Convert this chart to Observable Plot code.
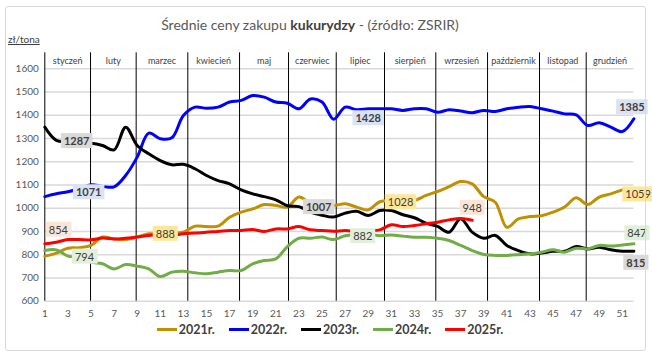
<!DOCTYPE html>
<html><head><meta charset="utf-8">
<script src="https://cdn.jsdelivr.net/npm/d3@7"></script>
<script src="https://cdn.jsdelivr.net/npm/@observablehq/plot@0.6"></script>
<style>
body{margin:0;background:#fff;font-family:Lato,"Liberation Sans",sans-serif;}
#wrap{position:relative;width:652px;height:360px;overflow:hidden;}
#wrap svg{position:absolute;left:0;top:0;}
#frame{position:absolute;left:5px;top:6px;width:641px;height:345px;border:1px solid #d9d9d9;border-radius:3px;box-sizing:border-box;pointer-events:none}
#title{position:absolute;left:0;width:620px;top:16px;text-align:center;font-size:14px;color:#595959;white-space:nowrap}
#title b{color:#404040}
#unit{position:absolute;left:8px;top:33px;font-size:10px;color:#404040;text-decoration:underline;}
#legend{position:absolute;left:4px;width:652px;top:322px;text-align:center;font-size:12.5px;font-weight:bold;color:#404040;white-space:nowrap}
#legend .it{display:inline-block;margin:0 7px;}
#legend .sw{display:inline-block;width:20px;height:3px;vertical-align:middle;margin-right:2px;position:relative;top:-1px}
</style>
</head><body>
<div id="wrap">
  <div id="frame"></div>
  <div id="title">Średnie ceny zakupu <b>kukurydzy</b> - (źródło: ZSRIR)</div>
  <div id="unit">zł/tona</div>
  <div id="legend"></div>
</div>
<script>
// ---- data ----
const seriesNames = ["2021r.", "2022r.", "2023r.", "2024r.", "2025r."];
const seriesColors = ["#BF9000", "#0000FF", "#000000", "#70AD47", "#FF0000"];
const labelBg = ["#FFE699", "#DAE3F3", "#D9D9D9", "#E2EFDA", "#FBE5D6"];

const y2021 = [794,807,828,830,840,876,868,865,876,890,888,893,897,923,921,923,961,983,997,1016,1012,1005,1048,1022,1022,1012,1019,1005,993,1028,1033,1033,1033,1055,1072,1093,1115,1105,1050,1026,918,954,964,968,983,1005,1045,1016,1048,1062,1079];
const y2022 = [1050,1062,1071,1084,1101,1094,1092,1141,1220,1323,1299,1303,1399,1435,1430,1435,1457,1464,1485,1478,1457,1452,1428,1470,1457,1383,1435,1424,1428,1428,1428,1421,1428,1428,1413,1424,1418,1411,1421,1416,1428,1435,1438,1428,1418,1406,1402,1356,1368,1349,1330,1385];
const y2023 = [1349,1292,1287,1280,1280,1270,1251,1349,1270,1234,1205,1187,1189,1170,1141,1119,1105,1079,1062,1050,1036,1011,1007,983,970,962,979,987,969,990,990,972,959,936,922,897,955,897,871,883,840,818,804,807,815,815,835,825,832,821,815,815];
const y2024 = [818,821,794,789,768,761,739,758,751,739,706,725,729,722,718,725,732,732,761,775,782,835,871,871,876,865,882,887,890,882,885,880,875,875,871,861,840,818,801,797,797,800,804,811,821,811,828,825,840,837,842,847];
const y2025 = [847,854,865,865,864,872,868,871,876,883,887,883,890,893,897,900,904,904,908,900,911,911,921,907,904,901,904,901,904,907,929,921,926,933,940,950,956,948];

const monthNames = ["styczeń","luty","marzec","kwiecień","maj","czerwiec","lipiec","sierpień","wrzesień","październik","listopad","grudzień"];
const monthBounds = [1, 4.96, 8.91, 13.38, 17.86, 22.1, 26.23, 30.41, 34.85, 39.33, 43.83, 47.87, 52];

const yTicks = [600,700,800,900,1000,1100,1200,1300,1400,1500,1600];
const xTicks = [1,3,5,7,9,11,13,15,17,19,21,23,25,27,29,31,33,35,37,39,41,43,45,47,49,51];

// data labels: series, week, shown text
const labelSeries = ["2022r.","2022r.","2022r.","2023r.","2023r.","2023r.","2021r.","2021r.","2021r.","2024r.","2024r.","2024r.","2025r.","2025r."];
const labelWeeks  = [3, 29, 52, 3, 23, 52, 11, 30, 51, 3, 27, 52, 2, 38];
const labelTexts  = ["1071","1428","1385","1287","1007","815","888","1028","1059","794","882","847","854","948"];

// ---- build ----
const allSeries = [y2021, y2022, y2023, y2024, y2025];
const rows = [];
allSeries.forEach((arr, s) => arr.forEach((v, i) => rows.push({week: i + 1, value: v, series: seriesNames[s]})));

// placement offsets (pixels) for each data label
const place = [
  {dx:8, dy:1, anchor:"start"}, {dx:0, dy:10, anchor:"middle"}, {dx:-2, dy:-11, anchor:"middle"},
  {dx:-4, dy:0, anchor:"start"}, {dx:7, dy:1, anchor:"start"}, {dx:2, dy:12, anchor:"middle"},
  {dx:5, dy:0, anchor:"middle"}, {dx:8, dy:1, anchor:"start"}, {dx:3, dy:5, anchor:"start"},
  {dx:7, dy:1, anchor:"start"}, {dx:8, dy:1, anchor:"start"}, {dx:3, dy:-10, anchor:"middle"},
  {dx:2, dy:-12, anchor:"middle"}, {dx:0, dy:-12, anchor:"middle"}
];

const labelSeriesIdx = labelSeries.map(n => seriesNames.indexOf(n));
const labelMarks = labelTexts.map((t, k) => {
  const s = labelSeriesIdx[k];
  const datum = rows.find(r => r.series === labelSeries[k] && r.week === labelWeeks[k]);
  const p = place[k];
  return Plot.text([datum], {
    x: "week", y: "value", text: () => t,
    dx: p.dx, dy: p.dy, textAnchor: p.anchor,
    fill: "#404040", fontSize: 11,
    fontWeight: (s === 1 || s === 2) ? "bold" : "normal"
  });
});

const chart = Plot.plot({
  width: 652, height: 360,
  marginLeft: 44.3, marginRight: 18.6, marginTop: 68.3, marginBottom: 59.3,
  style: {fontFamily: "Lato, 'Liberation Sans', sans-serif", fontSize: "10px", color: "#595959", background: "transparent", overflow: "visible"},
  x: {domain: [1, 52], ticks: xTicks, tickFormat: "d", tickSize: 0, tickPadding: 9, label: null},
  y: {domain: [600, 1600], ticks: yTicks, tickFormat: "d", tickSize: 0, tickPadding: 6, label: null},
  color: {domain: seriesNames, range: seriesColors},
  marks: [
    Plot.ruleY(yTicks, {stroke: "#d9d9d9", strokeWidth: 1.4}),
    Plot.ruleX(monthBounds.slice(0, -1), {stroke: "#000", strokeWidth: 1, insetTop: -16}),
    Plot.text(monthNames, {x: (d, i) => (monthBounds[i] + monthBounds[i + 1]) / 2, frameAnchor: "top", dy: -11, fill: "#404040", fontSize: 9}),
    Plot.line(rows, {x: "week", y: "value", stroke: "series", z: "series", strokeWidth: 3, curve: "catmull-rom"}),
    ...labelMarks
  ]
});

const wrap = document.getElementById("wrap");
wrap.insertBefore(chart, wrap.firstChild);

// label background boxes: the label marks are the last groups of the svg
const groups = Array.from(chart.children).filter(el => el.tagName.toLowerCase() === "g").slice(-labelTexts.length);
groups.forEach((g, k) => {
  const s = labelSeriesIdx[k];
  g.querySelectorAll("text").forEach(t => {
    const bb = t.getBBox();
    const r = document.createElementNS("http://www.w3.org/2000/svg", "rect");
    r.setAttribute("x", bb.x - 3);
    r.setAttribute("y", bb.y - 1);
    r.setAttribute("width", bb.width + 6);
    r.setAttribute("height", bb.height + 2);
    r.setAttribute("fill", labelBg[s]);
    if (t.getAttribute("transform")) r.setAttribute("transform", t.getAttribute("transform"));
    t.parentNode.insertBefore(r, t);
  });
});

// legend
const lg = document.getElementById("legend");
seriesNames.forEach((n, i) => {
  const it = document.createElement("span");
  it.className = "it";
  it.innerHTML = `<span class="sw" style="background:${seriesColors[i]}"></span>${n}`;
  lg.appendChild(it);
});
</script>
</body></html>
